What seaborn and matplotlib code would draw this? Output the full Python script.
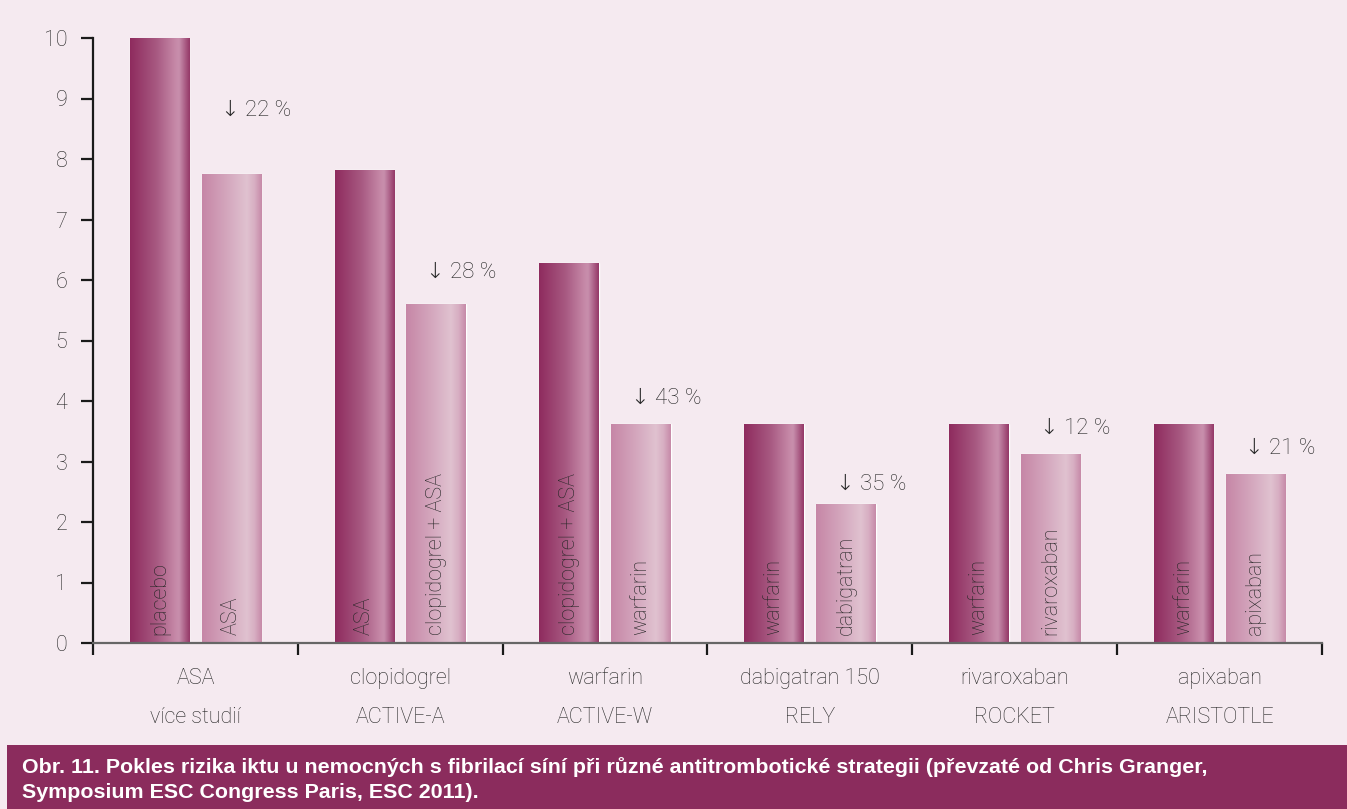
import numpy as np
import pandas as pd
import seaborn as sns
import matplotlib.pyplot as plt
from matplotlib.colors import LinearSegmentedColormap
from matplotlib.patches import Rectangle

# data
groups = ["ASA\nvíce studií", "clopidogrel\nACTIVE-A", "warfarin\nACTIVE-W",
          "dabigatran 150\nRELY", "rivaroxaban\nROCKET", "apixaban\nARISTOTLE"]
control_names = ["placebo", "ASA", "clopidogrel + ASA", "warfarin", "warfarin", "warfarin"]
treat_names = ["ASA", "clopidogrel + ASA", "warfarin", "dabigatran", "rivaroxaban", "apixaban"]
control_vals = [10.0, 7.82, 6.28, 3.62, 3.62, 3.62]
treat_vals = [7.75, 5.60, 3.62, 2.29, 3.13, 2.80]
reductions = ["22 %", "28 %", "43 %", "35 %", "12 %", "21 %"]
label_offsets = [1.05, 0.52, 0.43, 0.33, 0.42, 0.42]

caption = ("Obr. 11. Pokles rizika iktu u nemocných s fibrilací síní při různé antitrombotické strategii "
           "(převzaté od Chris Granger,\nSymposium ESC Congress Paris, ESC 2011).")

bg = "#f5eaf0"
txt = "#262626"

df = pd.DataFrame({
    "group": groups * 2,
    "arm": ["control"] * 6 + ["treatment"] * 6,
    "value": control_vals + treat_vals,
    "name": control_names + treat_names,
})

sns.set_theme(style="white")
plt.rcParams['font.family'] = ['Roboto', 'DejaVu Sans']
plt.rcParams['font.weight'] = 'light'

fig = plt.figure(figsize=(13.47, 8.09), dpi=100, facecolor=bg)
ax = fig.add_axes([93 / 1347, 1 - 643 / 809, (1322 - 93) / 1347, (643 - 38) / 809])
ax.set_facecolor(bg)

sns.barplot(data=df, x="group", y="value", hue="arm", order=groups,
            hue_order=["control", "treatment"], width=0.70, gap=0.17,
            palette=["#8e2b5e", "#c78aa8"], legend=False, ax=ax, zorder=2)

dark = LinearSegmentedColormap.from_list("dark", [
    (0.0, "#8e2b5e"), (0.45, "#a85a82"), (0.76, "#c689a8"),
    (0.82, "#c88fad"), (1.0, "#943767")])
light = LinearSegmentedColormap.from_list("light", [
    (0.0, "#c686a6"), (0.45, "#d5a9bf"), (0.75, "#e0c2d0"),
    (0.88, "#d7aec2"), (1.0, "#c68aa8")])
grad = np.linspace(0, 1, 256).reshape(1, -1)

bars = list(ax.patches)
for p in bars:
    x0, w, h = p.get_x(), p.get_width(), p.get_height()
    cm = dark if p.get_facecolor()[2] < 0.5 else light
    im = ax.imshow(grad, extent=[x0, x0 + w, 0, h], aspect="auto", cmap=cm,
                   zorder=3, interpolation="bicubic")
    im.set_clip_path(p)

# labels inside and above bars
n = len(groups)
ctrl_bars = sorted(bars[:n], key=lambda b: b.get_x())
trt_bars = sorted(bars[n:], key=lambda b: b.get_x())
for i in range(n):
    for b, name in ((ctrl_bars[i], control_names[i]), (trt_bars[i], treat_names[i])):
        ax.text(b.get_x() + b.get_width() / 2, 0.13, name, rotation=90,
                ha="center", va="bottom", fontsize=15.5, color=txt, zorder=4)
    tb = trt_bars[i]
    ax.text(tb.get_x() + tb.get_width() / 2 - 0.05, treat_vals[i] + label_offsets[i],
            "↓ " + reductions[i], ha="left", va="center", fontsize=16,
            color=txt, zorder=4)

ax.set_xlim(-0.5, n - 0.5)
ax.set_ylim(0, 10)
ax.set_yticks(range(0, 11))
ax.set_xlabel("")
ax.set_ylabel("")

for s in ["top", "right"]:
    ax.spines[s].set_visible(False)
ax.spines["left"].set_color("#1a1a1a")
ax.spines["left"].set_linewidth(1.6)
ax.spines["left"].set_zorder(5)
ax.spines["bottom"].set_color("#666666")
ax.spines["bottom"].set_linewidth(1.6)
ax.spines["bottom"].set_zorder(5)

ax.tick_params(axis="y", direction="out", length=8.5, width=1.6, color="#1a1a1a",
               pad=10, labelsize=15.5, labelcolor=txt, left=True)
ax.set_xticks(np.arange(-0.5, n, 1.0), minor=True)
ax.tick_params(axis="x", which="minor", direction="out", length=8.5, width=1.6,
               color="#1a1a1a", bottom=True)
ax.tick_params(axis="x", which="major", length=0, pad=18, labelsize=15.5, labelcolor=txt)
for lab in ax.get_xticklabels():
    lab.set_linespacing(2.1)

# caption band
fig.patches.append(Rectangle((7 / 1347, 0), 1 - 7 / 1347, 64 / 809, transform=fig.transFigure,
                             facecolor="#8b2c5d", edgecolor="none", zorder=0))
fig.text(22 / 1347, 1 - 757 / 809, caption, ha="left", va="top", color="white",
         fontsize=15.4, fontweight="bold", family=["Liberation Sans", "DejaVu Sans"],
         linespacing=1.42)

fig.savefig("out.png", dpi=100, facecolor=bg)
